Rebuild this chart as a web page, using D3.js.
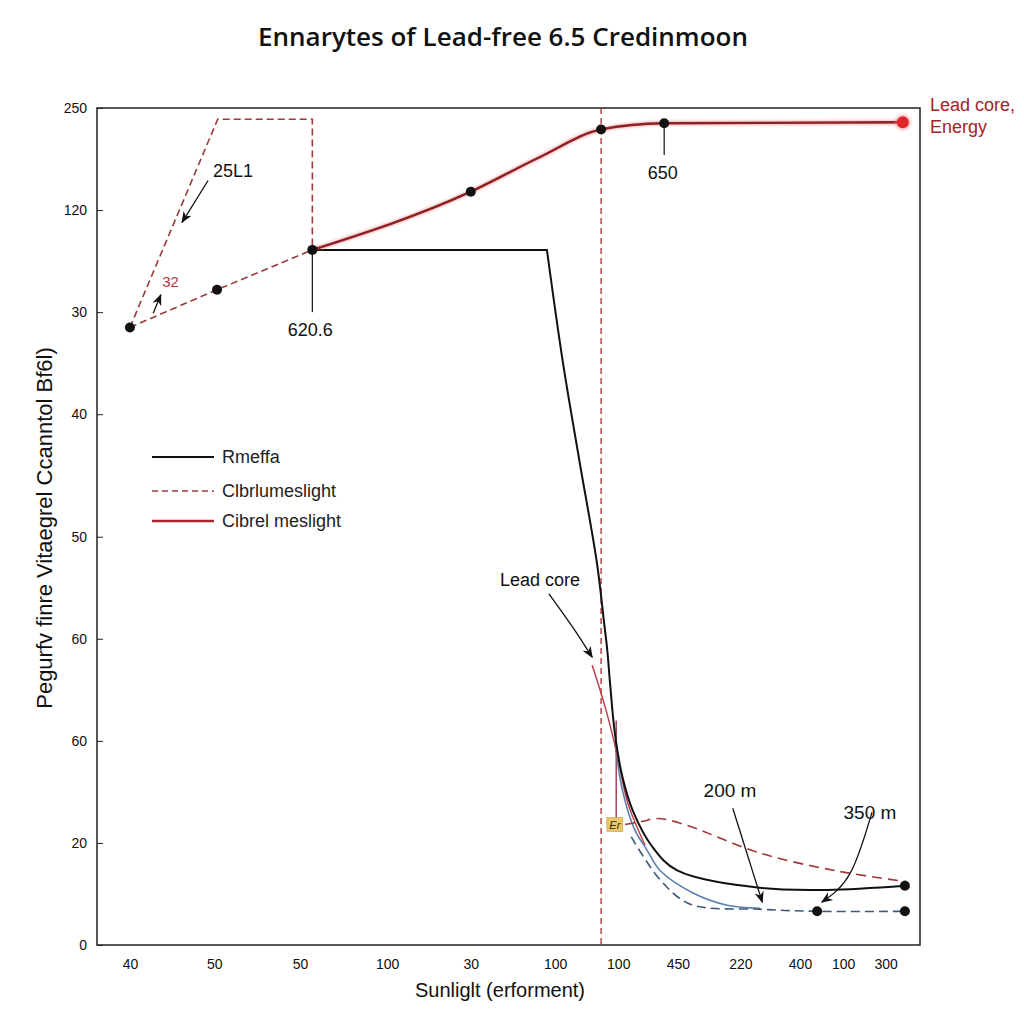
<!DOCTYPE html>
<html><head><meta charset="utf-8">
<script src="https://cdn.jsdelivr.net/npm/d3@7"></script>
<style>body{margin:0;background:#fff}</style>
</head><body><svg id="c" width="1024" height="1024"></svg>
<script>
// ---- axis ticks ----
const xTickPos = [4.8,17.1,29.6,42.3,54.5,66.8,76.0,84.7,93.8,102.5,108.8,115.0];
const xTickLabels = ["40","50","50","100","30","100","100","450","220","400","100","300"];
const yTickPos = [0,10,20,30,40,52,62,72,82];
const yTickLabels = ["0","20","60","60","50","40","30","120","250"];

// ---- series ----
const energyX = [31.4,54.5,64.6,73.5,82.7,117.5];
const energyY = [68.1,73.8,77.2,79.9,80.5,80.6];
const energyDot = [true,true,false,true,true,false];
const lowDashX = [4.8,17.5,31.4];
const lowDashY = [60.5,64.2,68.1];
const peakDashX = [4.8,17.6,31.4,31.4];
const peakDashY = [60.5,80.9,80.9,68.1];
const rmeffaX = [31.4,65.6,67.95,70.4,72.9,73.9,74.4,74.8,75.5,76.6,78.1,81.0,84.6,96.7,106.5,117.8];
const rmeffaY = [68.1,68.1,57.0,47.2,37.4,31.8,28.9,25.7,20.8,16.5,13.2,9.6,7.3,5.6,5.4,5.8];
const rmeffaCorner = 1; // straight plateau up to this index, smooth fall after
const blueX = [75.5,76.6,78.4,80.2,82.1,86.9,91.9,96.7];
const blueY = [20.1,15.2,11.3,9.3,7.3,5.1,3.9,3.6];
const blueDashX = [77.9,82.1,86.5,96.7,105.0,117.8];
const blueDashY = [10.6,6.4,4.0,3.5,3.3,3.3];
const redSolidX = [72.2,74.1,75.8,77.4,79.9];
const redSolidY = [27.4,23.3,18.8,13.9,9.8];
const redDashX = [77.0,79.5,81.7,85.7,96.7,108.3,118.1];
const redDashY = [11.8,12.1,12.4,11.8,9.0,7.2,6.2];
const vLineX = 73.5;

// ---- annotations ----
const noteLabels = ["25L1","32","620.6","650","Lead core","200 m","350 m"];
const noteX = [16.9,9.5,31.1,82.5,64.6,92.3,112.7];
const noteY = [75.2,64.5,59.7,75.0,35.2,14.5,12.3];
const legendLabels = ["Rmeffa","Clbrlumeslight","Cibrel meslight"];

const svg = d3.select("#c");
const x = d3.scaleLinear().domain([0,120]).range([97,920]);
const y = d3.scaleLinear().domain([0,82]).range([945,108]);
const FONT = "'Liberation Sans', Arial, sans-serif";

const defs = svg.append("defs");
defs.append("marker").attr("id","arr").attr("viewBox","0 0 10 10").attr("refX",9).attr("refY",5)
  .attr("markerWidth",9).attr("markerHeight",9).attr("orient","auto-start-reverse")
  .append("path").attr("d","M0,1 L10,5 L0,9 L3,5 Z").attr("fill","#111");
defs.append("filter").attr("id","glow").append("feGaussianBlur").attr("stdDeviation",1.6);

// title
svg.append("text").attr("x",503).attr("y",46).attr("text-anchor","middle")
  .attr("font-family","'Open Sans', sans-serif").attr("font-size",26).attr("font-weight",600)
  .attr("fill","#111").text("Ennarytes of Lead-free 6.5 Credinmoon");

// frame
svg.append("rect").attr("x",x(0)).attr("y",y(82)).attr("width",x(120)-x(0)).attr("height",y(0)-y(82))
  .attr("fill","none").attr("stroke","#222").attr("stroke-width",1.5);

// axes
const ya = svg.append("g").attr("transform",`translate(${x(0)},0)`)
  .call(d3.axisLeft(y).tickValues(yTickPos).tickFormat((d,i)=>yTickLabels[i]).tickSize(-6).tickSizeOuter(0).tickPadding(10));
ya.select(".domain").remove();
ya.selectAll("text").attr("font-family",FONT).attr("font-size",14).attr("fill","#111");
ya.selectAll("line").attr("stroke","#222");
const xa = svg.append("g").attr("transform",`translate(0,${y(0)})`)
  .call(d3.axisBottom(x).tickValues(xTickPos).tickFormat((d,i)=>xTickLabels[i]).tickSize(0).tickSizeOuter(0).tickPadding(14));
xa.select(".domain").remove();
xa.selectAll("text").attr("font-family",FONT).attr("font-size",14).attr("fill","#111");

// axis titles
svg.append("text").attr("x",500).attr("y",997).attr("text-anchor","middle")
  .attr("font-family",FONT).attr("font-size",20).attr("fill","#111").text("Sunliglt (erforment)");
svg.append("text").attr("transform","translate(52,528) rotate(-90)").attr("text-anchor","middle")
  .attr("font-family",FONT).attr("font-size",22).attr("fill","#111").text("Pegurfv finre Vitaegrel Ccanntol Bf6l)");

const mono = d3.line().x(d=>x(d[0])).y(d=>y(d[1])).curve(d3.curveMonotoneX);
const smooth = d3.line().x(d=>x(d[0])).y(d=>y(d[1])).curve(d3.curveCatmullRom.alpha(0.5));
const lin = d3.line().x(d=>x(d[0])).y(d=>y(d[1]));
const g = svg.append("g");

// red dashed vertical
g.append("line").attr("x1",x(vLineX)).attr("x2",x(vLineX)).attr("y1",y(82)).attr("y2",y(0))
  .attr("stroke","#b03a3a").attr("stroke-width",1.4).attr("stroke-dasharray","6,4");

// dashed red (left)
g.append("path").attr("d",lin(d3.zip(peakDashX,peakDashY))).attr("fill","none")
  .attr("stroke","#9a3a3a").attr("stroke-width",1.6).attr("stroke-dasharray","7,4");
g.append("path").attr("d",lin(d3.zip(lowDashX,lowDashY))).attr("fill","none")
  .attr("stroke","#9a3a3a").attr("stroke-width",1.6).attr("stroke-dasharray","7,4");

// leader lines
g.append("line").attr("x1",x(31.4)).attr("x2",x(31.4)).attr("y1",y(68.1)).attr("y2",y(62.0)).attr("stroke","#222").attr("stroke-width",1.3);
g.append("line").attr("x1",x(82.7)).attr("x2",x(82.7)).attr("y1",y(80.5)).attr("y2",y(77.4)).attr("stroke","#222").attr("stroke-width",1.3);
g.append("line").attr("x1",x(75.7)).attr("x2",x(75.7)).attr("y1",y(22.0)).attr("y2",y(12.1)).attr("stroke","#8a2a3a").attr("stroke-width",1.3);

// blue lines
g.append("path").attr("d",smooth(d3.zip(blueX,blueY))).attr("fill","none").attr("stroke","#5a7fb0").attr("stroke-width",1.6);
g.append("path").attr("d",smooth(d3.zip(blueDashX,blueDashY))).attr("fill","none").attr("stroke","#3e5878").attr("stroke-width",1.6).attr("stroke-dasharray","9,5");

// red thin lines
g.append("path").attr("d",smooth(d3.zip(redSolidX,redSolidY))).attr("fill","none").attr("stroke","#c0404a").attr("stroke-width",1.5);
g.append("path").attr("d",smooth(d3.zip(redDashX,redDashY))).attr("fill","none").attr("stroke","#a03838").attr("stroke-width",1.6).attr("stroke-dasharray","10,6");

// black Rmeffa: straight plateau, then smooth fall
const rmPts = d3.zip(rmeffaX,rmeffaY);
g.append("path").attr("d",lin(rmPts.slice(0,rmeffaCorner+1)) + smooth(rmPts.slice(rmeffaCorner)).replace(/^M[^A-Za-z]*/,""))
  .attr("fill","none").attr("stroke","#111").attr("stroke-width",2).attr("stroke-linejoin","miter");

// energy red line
g.append("path").attr("d",mono(d3.zip(energyX,energyY))).attr("fill","none").attr("stroke","#e06060").attr("stroke-width",4).attr("opacity",0.5).attr("filter","url(#glow)");
g.append("path").attr("d",mono(d3.zip(energyX,energyY))).attr("fill","none").attr("stroke","#8e1f22").attr("stroke-width",2.4);

// dots
const blackDots = d3.zip(energyX,energyY).filter((d,i)=>energyDot[i])
  .concat(d3.zip(lowDashX.slice(0,2),lowDashY.slice(0,2)))
  .concat([rmPts[rmPts.length-1]])
  .concat(d3.zip(blueDashX.slice(4),blueDashY.slice(4)));
g.selectAll(".bd").data(blackDots).join("circle").attr("cx",d=>x(d[0])).attr("cy",d=>y(d[1])).attr("r",5).attr("fill","#111");
g.append("circle").attr("cx",x(energyX[5])).attr("cy",y(energyY[5])).attr("r",8).attr("fill","#f08080").attr("opacity",0.5).attr("filter","url(#glow)");
g.append("circle").attr("cx",x(energyX[5])).attr("cy",y(energyY[5])).attr("r",6).attr("fill","#e0252a");

// yellow tag
g.append("rect").attr("x",x(75.5)-8).attr("y",y(11.8)-7).attr("width",16).attr("height",14).attr("fill","#e8c66a").attr("stroke","#c9a040").attr("stroke-width",0.6);
g.append("text").attr("x",x(75.5)).attr("y",y(11.8)+4).attr("text-anchor","middle").attr("font-family",FONT)
  .attr("font-size",11).attr("font-style","italic").attr("fill","#3a2a10").text("Er");

// annotation texts
const anchors = ["start","start","middle","middle","middle","middle","middle"];
const colors = ["#111","#b03838","#111","#111","#111","#111","#111"];
const sizes = [18,15,18,18,18,19,19];
svg.selectAll(".note").data(noteLabels).join("text")
  .attr("x",(d,i)=>x(noteX[i])).attr("y",(d,i)=>y(noteY[i])).attr("text-anchor",(d,i)=>anchors[i])
  .attr("font-family",FONT).attr("font-size",(d,i)=>sizes[i]).attr("fill",(d,i)=>colors[i]).text(d=>d);

// arrows
const arrows = [
  [[16.2,74.9],[12.4,70.8]],
  [[8.2,61.9],[9.3,63.7]],
  [[65.9,34.4],[69.5,31.0],[72.2,28.2]],
  [[92.7,13.4],[97.0,4.2]],
  [[113.0,13.0],[109.8,7.0],[105.7,4.2]]
];
const curvy = d3.line().x(d=>x(d[0])).y(d=>y(d[1])).curve(d3.curveNatural);
svg.selectAll(".arrow").data(arrows).join("path").attr("d",d=>curvy(d)).attr("fill","none")
  .attr("stroke","#111").attr("stroke-width",1.3).attr("marker-end","url(#arr)");

// top-right label
svg.append("text").attr("x",930).attr("y",111).attr("font-family",FONT).attr("font-size",18).attr("fill","#a82025").text("Lead core,");
svg.append("text").attr("x",930).attr("y",133).attr("font-family",FONT).attr("font-size",18).attr("fill","#a82025").text("Energy");

// legend
const leg = svg.append("g");
const legStyles = [
  {stroke:"#111",dash:null,w:2},
  {stroke:"#a03838",dash:"6,4",w:1.5},
  {stroke:"#a82530",dash:null,w:2.5}
];
const legY = [457,491,521];
legendLabels.forEach((lab,i)=>{
  leg.append("line").attr("x1",152).attr("x2",214).attr("y1",legY[i]).attr("y2",legY[i])
    .attr("stroke",legStyles[i].stroke).attr("stroke-width",legStyles[i].w).attr("stroke-dasharray",legStyles[i].dash);
  leg.append("text").attr("x",222).attr("y",legY[i]+6).attr("font-family",FONT).attr("font-size",18)
    .attr("fill","#222").text(lab);
});
</script></body></html>
